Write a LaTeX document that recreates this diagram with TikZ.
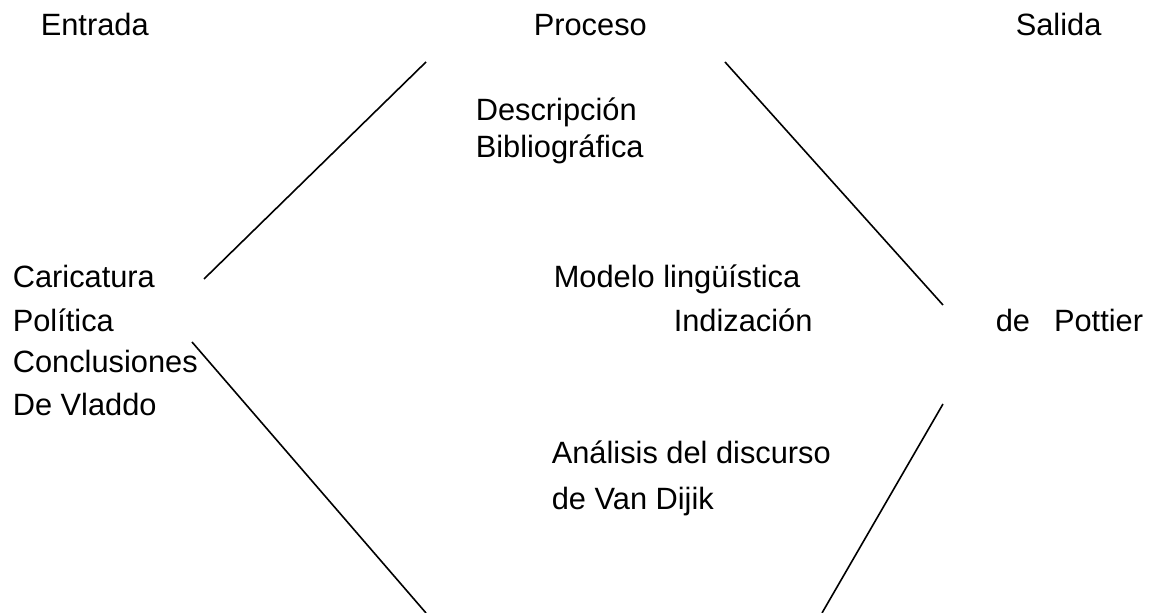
\documentclass[tikz,border=0pt]{standalone}
\usepackage{fontspec}
\setmainfont{Liberation Sans}
\usetikzlibrary {positioning}

\begin{document}
\begin{tikzpicture}[
      x=0.5pt, y=-0.5pt, line width=0.8pt,
      every node/.style={inner sep=0pt, anchor=base west, font=\fontsize{15.4}{18}\selectfont},
      ]
      \useasboundingbox (0,0) rectangle (1153,613);

      \node (e_0) at (40,36)   {Entrada};
      \node (p_0) at (533,36)  {Proceso};
      \node (s_0) at (1015,36) {Salida};

      \node (p_1) at (475,121) {Descripción};
      \node (p_2) at (475,158) {Bibliográfica};
      \node (p_3) at (553,288) {Modelo lingüística};
      \node (p_4) at (673,332) {Indización};
      \node (p_5) at (551,464) {Análisis del discurso};
      \node (p_6) at (551,510) {de Van Dijik};

      \node (e_1) at (12,288)  {Caricatura};
      \node (e_2) at (12,332)  {Política};
      \node (e_3) at (12,373)  {Conclusiones};
      \node (e_4) at (12,416)  {De Vladdo};

      \node (s_1) at (995,332) {de\hspace{12pt}Pottier};

      \coordinate (a_0) at (426,62);
      \coordinate (a_1) at (204,279);
      \coordinate (b_0) at (725,62);
      \coordinate (b_1) at (943,305);
      \coordinate (c_0) at (192,342);
      \coordinate (c_1) at (426,613);
      \coordinate (d_0) at (943,404);
      \coordinate (d_1) at (822,613);

      \draw (a_0) -- (a_1);
      \draw (b_0) -- (b_1);
      \draw (c_0) -- (c_1);
      \draw (d_0) -- (d_1);
    \end{tikzpicture}
\end{document}
